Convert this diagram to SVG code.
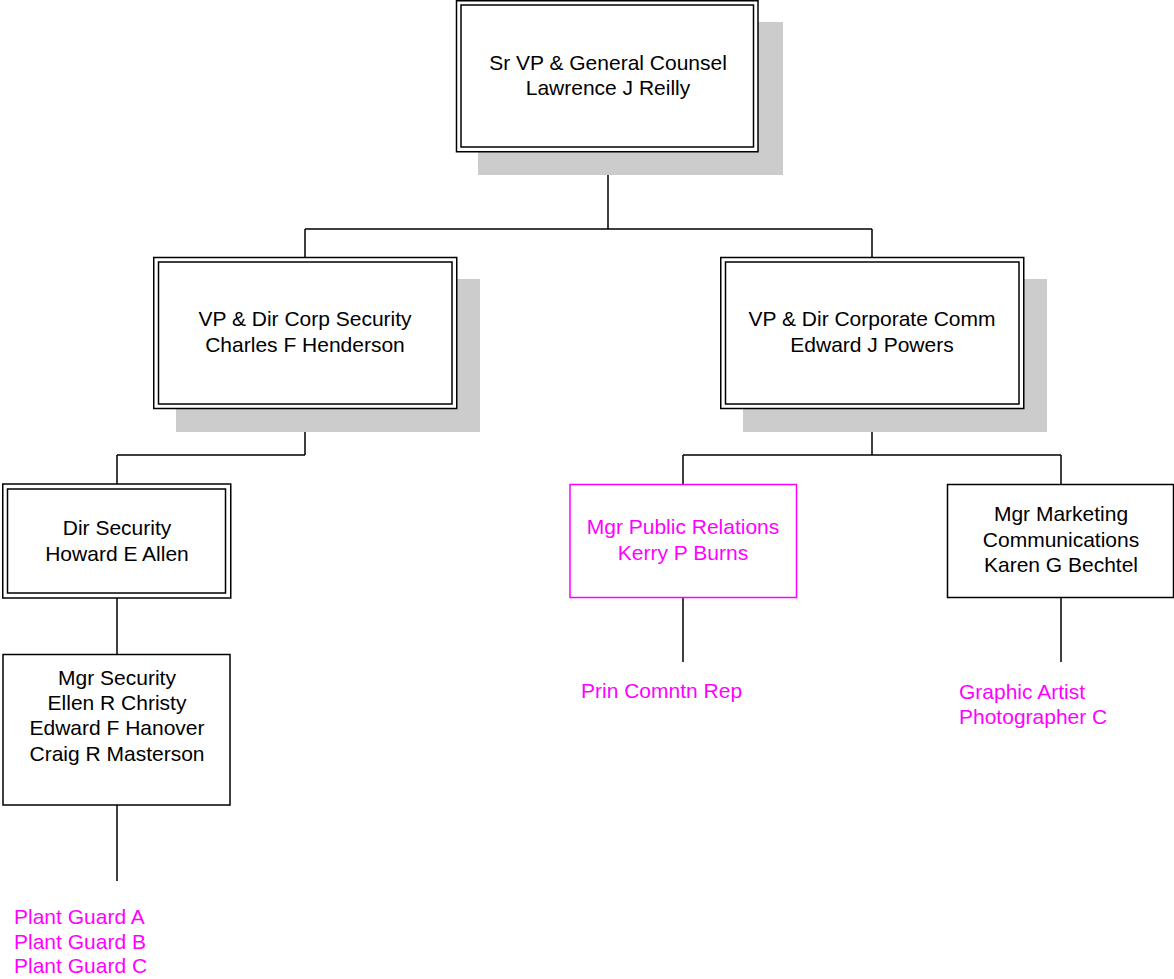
<svg xmlns="http://www.w3.org/2000/svg" width="1174" height="979" viewBox="0 0 1174 979">
<style>
text{font-family:"Liberation Sans",Arial,sans-serif;font-size:21px;fill:#000}
.c{text-anchor:middle}
.m{fill:#ff00ff}
.sh{fill:#cccccc;stroke:none}
.box{fill:#fff;stroke:#000;stroke-width:1.5}
.in{fill:none;stroke:#000;stroke-width:1.5}
.mb{fill:#fff;stroke:#ff00ff;stroke-width:1.5}
.ln{fill:none;stroke:#000;stroke-width:1.5}
</style>
<rect width="1174" height="979" fill="#fff"/>
<g id="connectors">
<path class="ln" d="M608 152V229M305 229H872M305 229V257M872 229V257"/>
<path class="ln" d="M305 408V455M117 455H305M117 455V484"/>
<path class="ln" d="M872 408V455M683 455H1061M683 455V484M1061 455V484"/>
<path class="ln" d="M117 598V654M117 805V881"/>
<path class="ln" d="M683 597V662M1061 597V662"/>
</g>
<g id="n1">
<rect class="sh" x="478" y="22" width="305" height="153"/>
<rect class="box" x="456.5" y="0.75" width="301.5" height="151"/>
<rect class="in" x="461" y="5" width="292.5" height="142"/>
<text class="c" x="608" y="70">Sr VP &amp; General Counsel</text>
<text class="c" x="608" y="95">Lawrence J Reilly</text>
</g>
<g id="n2">
<rect class="sh" x="176" y="279" width="304" height="153"/>
<rect class="box" x="153.75" y="257.5" width="303" height="151"/>
<rect class="in" x="158.5" y="262" width="293.5" height="142"/>
<text class="c" x="305" y="326">VP &amp; Dir Corp Security</text>
<text class="c" x="305" y="352">Charles F Henderson</text>
</g>
<g id="n3">
<rect class="sh" x="743" y="279" width="304" height="153"/>
<rect class="box" x="720.75" y="257.5" width="303" height="151"/>
<rect class="in" x="725.5" y="262" width="293.5" height="142"/>
<text class="c" x="872" y="326">VP &amp; Dir Corporate Comm</text>
<text class="c" x="872" y="352">Edward J Powers</text>
</g>
<g id="n4">
<rect class="box" x="2.75" y="484" width="228" height="114"/>
<rect class="in" x="7.5" y="489" width="218" height="104"/>
<text class="c" x="117" y="535">Dir Security</text>
<text class="c" x="117" y="561">Howard E Allen</text>
</g>
<g id="n5">
<rect class="mb" x="570" y="484.5" width="226.5" height="113"/>
<text class="c m" x="683" y="534">Mgr Public Relations</text>
<text class="c m" x="683" y="560">Kerry P Burns</text>
</g>
<g id="n6">
<rect class="box" x="947.5" y="484.5" width="226" height="113"/>
<text class="c" x="1061" y="521">Mgr Marketing</text>
<text class="c" x="1061" y="547">Communications</text>
<text class="c" x="1061" y="572">Karen G Bechtel</text>
</g>
<g id="n7">
<rect class="box" x="3" y="654.5" width="227" height="150.5"/>
<text class="c" x="117" y="685">Mgr Security</text>
<text class="c" x="117" y="710">Ellen R Christy</text>
<text class="c" x="117" y="735">Edward F Hanover</text>
<text class="c" x="117" y="761">Craig R Masterson</text>
</g>
<g id="n8">
<text class="m" x="581" y="698">Prin Comntn Rep</text>
</g>
<g id="n9">
<text class="m" x="959" y="699">Graphic Artist</text>
<text class="m" x="959" y="724">Photographer C</text>
</g>
<g id="n10">
<text class="m" x="14" y="924">Plant Guard A</text>
<text class="m" x="14" y="949">Plant Guard B</text>
<text class="m" x="14" y="973">Plant Guard C</text>
</g>
</svg>
